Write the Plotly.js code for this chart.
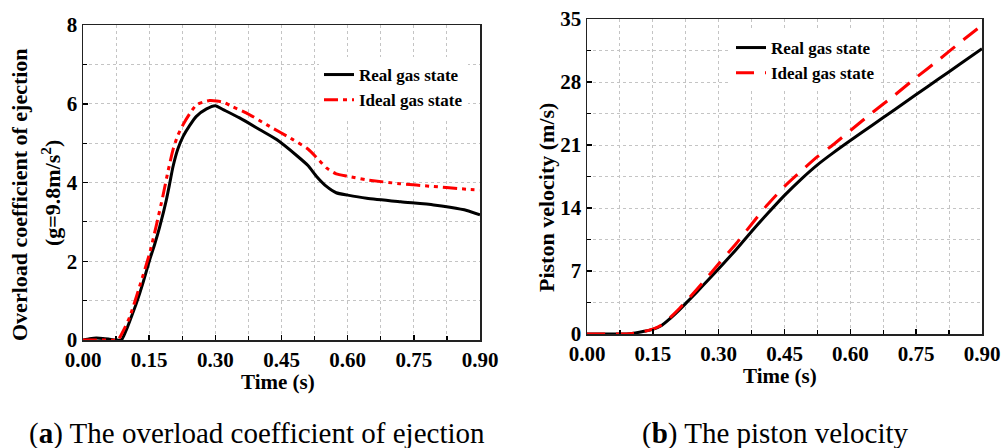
<!DOCTYPE html>
<html>
<head>
<meta charset="utf-8">
<script src="https://cdn.plot.ly/plotly-3.0.1.min.js"></script>
<style>html,body{margin:0;padding:0;background:#fff;}#chart{width:1003px;height:448px;}</style>
</head>
<body>
<div id="chart"></div>
<script>
// ---- Data (a): overload coefficient of ejection ----
const timeRealA = [0, 0.015, 0.03, 0.045, 0.06, 0.075, 0.087, 0.098, 0.11, 0.121, 0.136, 0.151, 0.163, 0.174, 0.189, 0.197, 0.204, 0.215, 0.227, 0.242, 0.257, 0.28, 0.30, 0.318, 0.355, 0.401, 0.439, 0.487, 0.51, 0.529, 0.552, 0.574, 0.6, 0.643, 0.72, 0.795, 0.832, 0.87, 0.9];
const overloadReal = [0, 0.03, 0.05, 0.04, 0.02, 0, 0, 0.25, 0.6, 0.93, 1.45, 2.03, 2.45, 2.88, 3.56, 4.0, 4.4, 4.85, 5.17, 5.45, 5.68, 5.87, 5.95, 5.85, 5.64, 5.34, 5.09, 4.66, 4.43, 4.16, 3.9, 3.74, 3.68, 3.6, 3.51, 3.43, 3.37, 3.29, 3.18];
const timeIdealA = [0, 0.03, 0.06, 0.079, 0.092, 0.106, 0.128, 0.151, 0.166, 0.181, 0.193, 0.204, 0.215, 0.227, 0.242, 0.257, 0.272, 0.287, 0.303, 0.318, 0.336, 0.37, 0.416, 0.476, 0.51, 0.529, 0.552, 0.574, 0.601, 0.642, 0.718, 0.793, 0.869, 0.9];
const overloadIdeal = [0, 0, 0, 0, 0.25, 0.59, 1.35, 2.2, 2.9, 3.65, 4.3, 4.83, 5.2, 5.47, 5.75, 5.97, 6.04, 6.08, 6.07, 6.04, 5.94, 5.77, 5.47, 5.09, 4.85, 4.64, 4.37, 4.22, 4.16, 4.07, 3.97, 3.9, 3.83, 3.81];

// ---- Data (b): piston velocity ----
const timeB = [0, 0.05, 0.09, 0.11, 0.13, 0.15, 0.17, 0.19, 0.21, 0.225, 0.25, 0.275, 0.30, 0.34, 0.375, 0.41, 0.45, 0.49, 0.525, 0.56, 0.6, 0.65, 0.7, 0.75, 0.8, 0.85, 0.9];
const velocityReal = [0, 0, 0, 0.12, 0.3, 0.52, 0.95, 1.75, 2.65, 3.4, 4.65, 5.95, 7.25, 9.4, 11.4, 13.3, 15.4, 17.3, 18.8, 20.1, 21.5, 23.2, 24.9, 26.6, 28.3, 30.0, 31.7];
const velocityIdeal = [0, 0, 0, 0.1, 0.3, 0.55, 1.0, 1.85, 2.8, 3.6, 4.95, 6.35, 7.8, 10.05, 12.2, 14.3, 16.4, 18.2, 19.7, 21.0, 22.6, 24.6, 26.5, 28.5, 30.4, 32.4, 34.3];

const seriesNames = ["Real gas state", "Ideal gas state"];
const xTickVals = [0, 0.15, 0.30, 0.45, 0.60, 0.75, 0.90];
const xTickText = ["0.00", "0.15", "0.30", "0.45", "0.60", "0.75", "0.90"];
const yTickValsA = [0, 2, 4, 6, 8];
const yTickValsB = [0, 7, 14, 21, 28, 35];

const serif = "Liberation Serif, Times New Roman, serif";
const tickFont = {family: serif, size: 21, weight: "bold", color: "#000"};
const titleFont = {family: serif, size: 21, weight: "bold", color: "#000"};

const traces = [
  {x: timeRealA, y: overloadReal, name: seriesNames[0], type: "scatter", mode: "lines",
   line: {color: "#000", width: 3, shape: "spline", smoothing: 0.6}, xaxis: "x", yaxis: "y", legend: "legend"},
  {x: timeIdealA, y: overloadIdeal, name: seriesNames[1], type: "scatter", mode: "lines",
   line: {color: "#ff0000", width: 3, dash: "14px,5px,4px,5px,4px,5px", shape: "spline", smoothing: 0.6}, xaxis: "x", yaxis: "y", legend: "legend"},
  {x: timeB, y: velocityReal, name: seriesNames[0], type: "scatter", mode: "lines",
   line: {color: "#000", width: 3, shape: "spline", smoothing: 0.6}, xaxis: "x2", yaxis: "y2", legend: "legend2"},
  {x: timeB, y: velocityIdeal, name: seriesNames[1], type: "scatter", mode: "lines",
   line: {color: "#ff0000", width: 3, dash: "18px,11px", shape: "spline", smoothing: 0.6}, xaxis: "x2", yaxis: "y2", legend: "legend2"}
];

function xAxis(domain, anchor) {
  return {
    domain: domain, anchor: anchor, range: [0, 0.9], tickmode: "array", tickvals: xTickVals, ticktext: xTickText,
    ticks: "inside", ticklen: 5, tickwidth: 1.5, tickcolor: "#000", tickfont: tickFont,
    showline: true, linecolor: "#222", linewidth: 1.5, mirror: true, zeroline: false,
    showgrid: true, gridcolor: "#c4c4c4", gridwidth: 1, griddash: "dot",
    minor: {dtick: 0.075, tick0: 0, ticks: "inside", ticklen: 4, tickwidth: 1.2, tickcolor: "#000", showgrid: true, gridcolor: "#c4c4c4", gridwidth: 1, griddash: "dot"},
    automargin: false, fixedrange: true
  };
}
function yAxis(domain, anchor, range, vals, minorStep) {
  return {
    domain: domain, anchor: anchor, range: range, tickmode: "array", tickvals: vals,
    ticks: "inside", ticklen: 5, tickwidth: 1.5, tickcolor: "#000", tickfont: tickFont,
    showline: true, linecolor: "#222", linewidth: 1.5, mirror: true, zeroline: false,
    showgrid: true, gridcolor: "#c4c4c4", gridwidth: 1, griddash: "dot",
    minor: {dtick: minorStep, tick0: 0, ticks: "inside", ticklen: 4, tickwidth: 1.2, tickcolor: "#000", showgrid: true, gridcolor: "#c4c4c4", gridwidth: 1, griddash: "dot"},
    automargin: false, fixedrange: true
  };
}

const W = 1003, H = 448;
const px = v => v / W, py = v => (H - v) / H;

const legendFont = {family: serif, size: 17, weight: "bold", color: "#000"};
const captionFont = {family: serif, size: 29, color: "#000"};

const layout = {
  width: W, height: H,
  margin: {l: 0, r: 0, t: 0, b: 0},
  paper_bgcolor: "#fff", plot_bgcolor: "#fff",
  showlegend: true,
  xaxis: xAxis([px(83), px(480)], "y"),
  yaxis: yAxis([py(340), py(25)], "x", [0, 8], yTickValsA, 1),
  xaxis2: xAxis([px(587), px(982)], "y2"),
  yaxis2: yAxis([py(334), py(19)], "x2", [0, 35], yTickValsB, 3.5),
  legend: {x: px(319), y: py(57), xanchor: "left", yanchor: "top", bgcolor: "#fff", borderwidth: 0, font: legendFont, tracegroupgap: 0},
  legend2: {x: px(731), y: py(30), xanchor: "left", yanchor: "top", bgcolor: "#fff", borderwidth: 0, font: legendFont, tracegroupgap: 0},
  annotations: [
    {text: "Time (s)", xref: "paper", yref: "paper", x: px(278), y: py(382), showarrow: false, font: titleFont, xanchor: "center", yanchor: "middle"},
    {text: "Time (s)", xref: "paper", yref: "paper", x: px(780), y: py(376), showarrow: false, font: titleFont, xanchor: "center", yanchor: "middle"},
    {text: "Overload coefficient of ejection", xref: "paper", yref: "paper", x: px(20), y: py(195), textangle: -90, showarrow: false, font: {family: serif, size: 22, weight: "bold", color: "#000"}, xanchor: "center", yanchor: "middle"},
    {text: "(g=9.8m/s<sup>2</sup>)", xref: "paper", yref: "paper", x: px(51), y: py(193), textangle: -90, showarrow: false, font: {family: serif, size: 22, weight: "bold", color: "#000"}, xanchor: "center", yanchor: "middle"},
    {text: "Piston velocity (m/s)", xref: "paper", yref: "paper", x: px(546), y: py(198), textangle: -90, showarrow: false, font: {family: serif, size: 22, weight: "bold", color: "#000"}, xanchor: "center", yanchor: "middle"},
    {text: "(<b>a</b>) The overload coefficient of ejection", xref: "paper", yref: "paper", x: px(257), y: py(433), showarrow: false, font: captionFont, xanchor: "center", yanchor: "middle"},
    {text: "(<b>b</b>) The piston velocity", xref: "paper", yref: "paper", x: px(775), y: py(433), showarrow: false, font: captionFont, xanchor: "center", yanchor: "middle"}
  ]
};

Plotly.newPlot("chart", traces, layout, {displayModeBar: false, staticPlot: true});
</script>
</body>
</html>
